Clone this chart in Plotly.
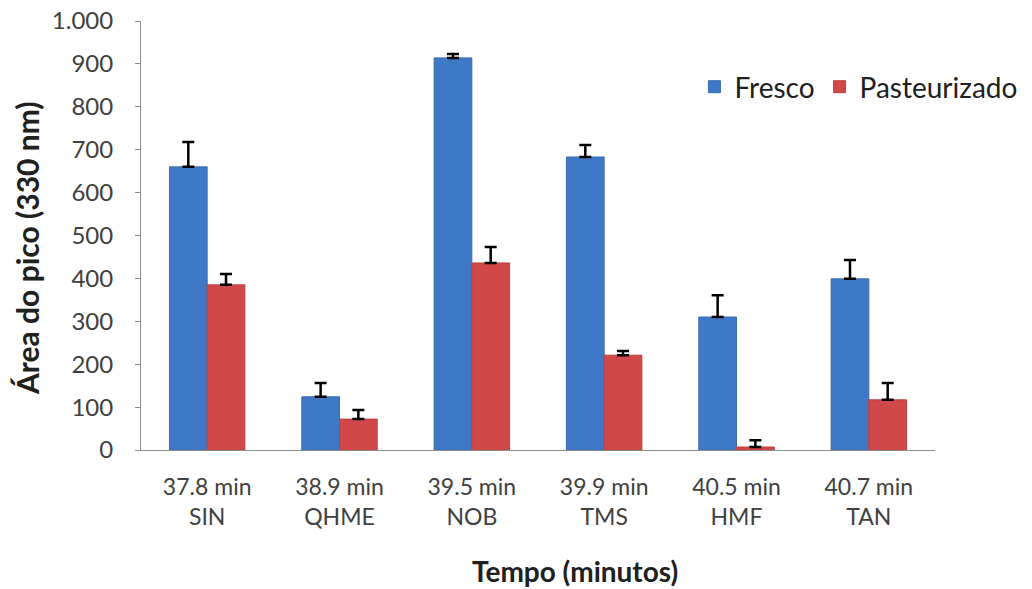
import plotly.graph_objects as go

times = ["37.8 min", "38.9 min", "39.5 min", "39.9 min", "40.5 min", "40.7 min"]
compounds = ["SIN", "QHME", "NOB", "TMS", "HMF", "TAN"]
fresco = [660, 124, 914, 683, 310, 399]
fresco_err = [58, 32, 9, 28, 51, 44]
past = [385, 72, 436, 221, 7, 117]
past_err = [25, 21, 37, 10, 16, 39]

categories = [f"{t}<br>{c}" for t, c in zip(times, compounds)]

FONT = "Lato"

fig = go.Figure()
fig.add_trace(go.Bar(
    name="Fresco", x=categories, y=fresco,
    marker=dict(color="#3f78c6", line=dict(color="#3a6db3", width=1)),
    error_y=dict(type="data", array=fresco_err, arrayminus=[0]*6, symmetric=False,
                 color="black", thickness=2.5, width=6),
))
fig.add_trace(go.Bar(
    name="Pasteurizado", x=categories, y=past,
    marker=dict(color="#d04848", line=dict(color="#bf3f3f", width=1)),
    error_y=dict(type="data", array=past_err, arrayminus=[0]*6, symmetric=False,
                 color="black", thickness=2.5, width=6),
))

fig.update_layout(
    width=1032, height=589,
    margin=dict(l=141, r=97, t=21, b=139, autoexpand=False),
    paper_bgcolor="white", plot_bgcolor="white",
    barmode="group", bargap=0.43, bargroupgap=0,
    separators=",.",
    font=dict(family=FONT, size=23, color="#404040"),
    legend=dict(orientation="h", x=0.697, y=(450-87)/429, xanchor="left", yanchor="middle",
                font=dict(family=FONT, size=28, color="#202020"),
                bgcolor="rgba(0,0,0,0)", itemwidth=30, traceorder="normal"),
    showlegend=True,
    annotations=[
        dict(text="<b>Área do pico (330 nm)</b>", textangle=-90,
             xref="paper", yref="paper", x=(27-141)/794, y=(450-248)/429,
             xanchor="center", yanchor="middle", showarrow=False,
             font=dict(family=FONT, size=30, color="#202020")),
        dict(text="<b>Tempo (minutos)</b>",
             xref="paper", yref="paper", x=(575-141)/794, y=(450-571)/429,
             xanchor="center", yanchor="middle", showarrow=False,
             font=dict(family=FONT, size=28, color="#202020")),
    ],
)
fig.update_yaxes(
    range=[0, 1000], dtick=100, tickformat=",d", automargin=False,
    showgrid=False, zeroline=False,
    showline=True, linecolor="#8c8c8c", linewidth=1,
    ticks="outside", ticklen=5, tickcolor="#8c8c8c",
    ticklabelstandoff=17,
    tickfont=dict(family=FONT, size=24, color="#404040"),
)
fig.update_xaxes(
    showgrid=False, showline=True, linecolor="#8c8c8c", linewidth=1, automargin=False,
    ticks="", ticklabelstandoff=16,
    tickfont=dict(family=FONT, size=23, color="#404040"),
)

fig.write_html("out.html")
